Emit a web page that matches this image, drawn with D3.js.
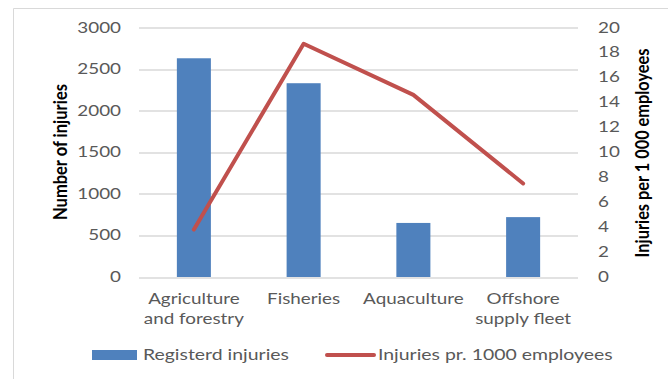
<!DOCTYPE html>
<html>
<head>
<meta charset="utf-8">
<script src="https://cdn.jsdelivr.net/npm/d3@7"></script>
<style>
  body { margin: 0; background: #fff; }
  svg text { font-family: Lato, "Open Sans", sans-serif; }
</style>
</head>
<body>
<div class="chart"></div>
<script>
var categories = [["Agriculture", "and forestry"], ["Fisheries"], ["Aquaculture"], ["Offshore", "supply fleet"]];
var injuries = [2630, 2330, 650, 720];
var ratePer1000 = [3.8, 18.7, 14.6, 7.5];
var leftTicks = [0, 500, 1000, 1500, 2000, 2500, 3000];
var rightTicks = [0, 2, 4, 6, 8, 10, 12, 14, 16, 18, 20];

var width = 668, height = 379;
var margin = {top: 27.5, right: 90, bottom: 102, left: 139};
var plotW = 578 - margin.left,
    plotH = 277 - margin.top;
var stretch = 1.3; // the reference text is drawn wide

var svg = d3.select(".chart")
    .append("svg")
    .attr("width", width)
    .attr("height", height);

// helper: horizontal text, widened like the reference
function wideText(parent, x, y, anchor, txt, sx) {
  return parent.append("g")
      .attr("transform", "translate(" + x + "," + y + ") scale(" + (sx || stretch) + ",1)")
    .append("text")
      .attr("text-anchor", anchor)
      .attr("fill", "#595959")
      .style("font-size", "14.5px")
      .text(txt);
}

// outer frame
svg.append("path")
    .attr("d", "M13.5," + height + " V8.5 H" + width)
    .attr("fill", "none")
    .attr("stroke", "#d9d9d9")
    .attr("stroke-width", 1);

var g = svg.append("g")
    .attr("transform", "translate(" + margin.left + "," + margin.top + ")");

var x = d3.scaleBand().domain(d3.range(categories.length)).range([0, plotW]).paddingInner(0.69).paddingOuter(0.345);
var y = d3.scaleLinear().domain([0, 3000]).range([plotH, 0]);
var y2 = d3.scaleLinear().domain([0, 20]).range([plotH, 0]);

// gridlines
g.append("g")
    .selectAll("line")
    .data(leftTicks)
    .enter().append("line")
    .attr("x1", 0).attr("x2", plotW)
    .attr("y1", function(d){ return Math.round(y(d)) + 0.5; })
    .attr("y2", function(d){ return Math.round(y(d)) + 0.5; })
    .attr("stroke", "#d9d9d9")
    .attr("stroke-width", 1.3);

// left tick labels
leftTicks.forEach(function(t){
  wideText(g, -18, y(t) + 5, "end", d3.format("d")(t));
});

// right tick labels
rightTicks.forEach(function(t){
  wideText(g, plotW + 20, y2(t) + 5, "start", d3.format("d")(t));
});

// bars
g.selectAll(".bar")
    .data(injuries)
    .enter().append("rect")
    .attr("class", "bar")
    .attr("x", function(d, i){ return x(i); })
    .attr("width", x.bandwidth())
    .attr("y", function(d){ return y(d); })
    .attr("height", function(d){ return plotH - y(d); })
    .attr("fill", "#4f81bd");

// line
var line = d3.line()
    .x(function(d, i){ return x(i) + x.bandwidth() / 2; })
    .y(function(d){ return y2(d); });

g.append("path")
    .datum(ratePer1000)
    .attr("d", line)
    .attr("fill", "none")
    .attr("stroke", "#c0504d")
    .attr("stroke-width", 4)
    .attr("stroke-linejoin", "round")
    .attr("stroke-linecap", "round");

// category labels
categories.forEach(function(lines, i){
  lines.forEach(function(l, j){
    wideText(g, x(i) + x.bandwidth() / 2, plotH + 27 + j * 19.5, "middle", l);
  });
});

// axis titles
svg.append("text")
    .attr("transform", "translate(67,152) rotate(-90) scale(1.1,1.25)")
    .attr("text-anchor", "middle")
    .attr("fill", "#000")
    .style("font-size", "15px")
    .style("font-weight", "bold")
    .text("Number of injuries");

svg.append("text")
    .attr("transform", "translate(649,153) rotate(-90) scale(1.09,1.25)")
    .attr("text-anchor", "middle")
    .attr("fill", "#000")
    .style("font-size", "15px")
    .style("font-weight", "bold")
    .text("Injuries per 1 000 employees");

// legend
var legend = svg.append("g");
legend.append("rect")
    .attr("x", 92).attr("y", 350)
    .attr("width", 45).attr("height", 10)
    .attr("fill", "#4f81bd");
wideText(legend, 143, 360, "start", "Registerd injuries", 1.34);
legend.append("line")
    .attr("x1", 327).attr("x2", 374)
    .attr("y1", 355).attr("y2", 355)
    .attr("stroke", "#c0504d")
    .attr("stroke-width", 4)
    .attr("stroke-linecap", "round");
wideText(legend, 378, 360, "start", "Injuries pr. 1000 employees", 1.34);
</script>
</body>
</html>
